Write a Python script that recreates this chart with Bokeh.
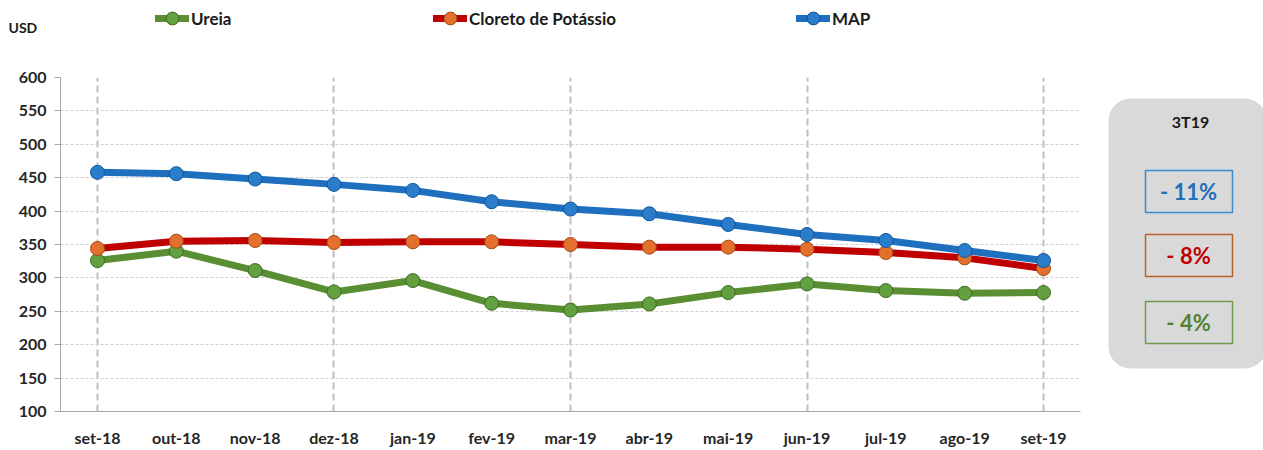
from bokeh.plotting import figure
from bokeh.models import (Range1d, FixedTicker, Legend, LegendItem, Label, BoxAnnotation)
from bokeh.layouts import row, column
from bokeh.embed import file_html
from bokeh.resources import INLINE

months = ["set-18", "out-18", "nov-18", "dez-18", "jan-19", "fev-19", "mar-19",
          "abr-19", "mai-19", "jun-19", "jul-19", "ago-19", "set-19"]
ureia = [326, 340, 311, 279, 296, 262, 252, 261, 278, 291, 281, 277, 278]
cloreto = [344, 355, 356, 353, 354, 354, 350, 346, 346, 343, 338, 330, 314]
map_ = [458, 456, 448, 440, 431, 414, 403, 396, 380, 365, 356, 341, 326]
y_ticks = [100, 150, 200, 250, 300, 350, 400, 450, 500, 550, 600]

unit_label = "USD"
panel_title = "3T19"
panel_values = ["- 11%", "- 8%", "- 4%"]

FONT = "Lato"
xs = list(range(len(months)))

series = [
    ("Ureia", ureia, "#5A8E32", "#62A040", "#3C6A22"),
    ("Cloreto de Potássio", cloreto, "#C00000", "#E4702E", "#A34A14"),
    ("MAP", map_, "#1F6FBF", "#2A7DCB", "#14559A"),
]

# ---------- header strip: unit label + legend ----------
HEAD_H = 60
h = figure(width=1263, height=HEAD_H, output_backend="svg", toolbar_location=None,
           x_range=Range1d(0, 1263), y_range=Range1d(HEAD_H, 0),
           min_border=0, min_border_left=0, min_border_right=0,
           min_border_top=0, min_border_bottom=0)
h.axis.visible = False
h.grid.visible = False
h.outline_line_color = None
h.add_layout(Label(x=8, y=27, text=unit_label, text_font=FONT, text_font_style="bold",
                   text_font_size="14px", text_color="#1A1A1A", text_baseline="middle"))

# ---------- main chart ----------
p = figure(width=1090, height=450 - HEAD_H, output_backend="svg", toolbar_location=None,
           x_range=Range1d(-0.469, len(months) - 1 + 0.469), y_range=Range1d(100, 600),
           min_border_left=60, min_border_right=10, min_border_top=77 - HEAD_H,
           min_border_bottom=39)
p.outline_line_color = None
p.background_fill_color = "white"

p.xaxis.ticker = FixedTicker(ticks=xs)
p.xaxis.major_label_overrides = {i: m for i, m in enumerate(months)}
p.xaxis.major_tick_line_color = None
p.xaxis.minor_tick_line_color = None
p.xaxis.axis_line_color = "#A6A6A6"
p.xaxis.major_label_standoff = 10
p.yaxis.ticker = FixedTicker(ticks=y_ticks)
p.yaxis.minor_tick_line_color = None
p.yaxis.major_tick_out = 6
p.yaxis.major_tick_in = 0
p.yaxis.major_tick_line_color = "#A6A6A6"
p.yaxis.axis_line_color = "#A6A6A6"
p.yaxis.major_label_standoff = 8
for ax in (p.xaxis, p.yaxis):
    ax.major_label_text_font = FONT
    ax.major_label_text_font_style = "bold"
    ax.major_label_text_font_size = "16px"
    ax.major_label_text_color = "#262626"

p.ygrid.grid_line_color = "#D0D0D0"
p.ygrid.grid_line_dash = "3 2"
p.ygrid.grid_line_width = 1
p.xgrid.ticker = FixedTicker(ticks=[0, 3, 6, 9, 12])
p.xgrid.grid_line_color = "#BFBFBF"
p.xgrid.grid_line_dash = "7 4"
p.xgrid.grid_line_width = 2

legend_x = [155, 433, 796]
for (name, vals, lc, mf, ml), lx in zip(series, legend_x):
    p.line(xs, vals, line_color=lc, line_width=7, line_join="round", line_cap="round")
    p.scatter(xs, vals, size=14, fill_color=mf, line_color=ml, line_width=1)
    # legend swatch renderers in the header strip (same styling, drawn off-canvas)
    hl = h.line([-50, -40], [-50, -50], line_color=lc, line_width=7, line_cap="round")
    hs = h.scatter([-50], [-50], size=14, fill_color=mf, line_color=ml, line_width=1)
    leg = Legend(items=[LegendItem(label=name, renderers=[hl, hs], index=0)],
                 location=(lx, HEAD_H - 34),
                 orientation="horizontal", padding=0, margin=0, spacing=0,
                 glyph_width=34, glyph_height=32, label_standoff=2,
                 label_text_font=FONT, label_text_font_style="bold",
                 label_text_font_size="17px", label_text_color="#1A1A1A",
                 background_fill_alpha=0, border_line_alpha=0)
    h.add_layout(leg, "center")

# ---------- right summary panel (coordinates: page pixels, frame aligned with chart) ----------
q = figure(width=173, height=450 - HEAD_H, output_backend="svg", toolbar_location=None,
           x_range=Range1d(0, 173), y_range=Range1d(411, 77),
           min_border=0, min_border_left=0, min_border_right=0,
           min_border_top=77 - HEAD_H, min_border_bottom=39)
q.axis.visible = False
q.grid.visible = False
q.outline_line_color = None
q.add_layout(BoxAnnotation(left=18, right=176, top=98, bottom=368, border_radius=22,
                           fill_color="#D9D9D9", fill_alpha=1, line_color=None))
q.add_layout(Label(x=100, y=121, text=panel_title, text_font=FONT, text_font_style="bold",
                   text_font_size="16px", text_color="#1A1A1A", text_align="center",
                   text_baseline="middle"))
box_cols = [("#3A8BD0", "#1F6FBF"), ("#B8612A", "#C00000"), ("#6F9A4E", "#548235")]
box_tops = [170, 234, 301]
for val, (bc, tc), bt in zip(panel_values, box_cols, box_tops):
    q.add_layout(BoxAnnotation(left=55, right=142, top=bt, bottom=bt + 42,
                               fill_color="#D9D9D9", fill_alpha=1,
                               line_color=bc, line_alpha=1, line_width=1.5))
    q.add_layout(Label(x=98, y=bt + 21, text=val, text_font=FONT, text_font_style="bold",
                       text_font_size="22px", text_color=tc, text_align="center",
                       text_baseline="middle"))

layout = column(h, row(p, q, spacing=0), spacing=0)
open("out.html", "w").write(file_html(layout, INLINE))
